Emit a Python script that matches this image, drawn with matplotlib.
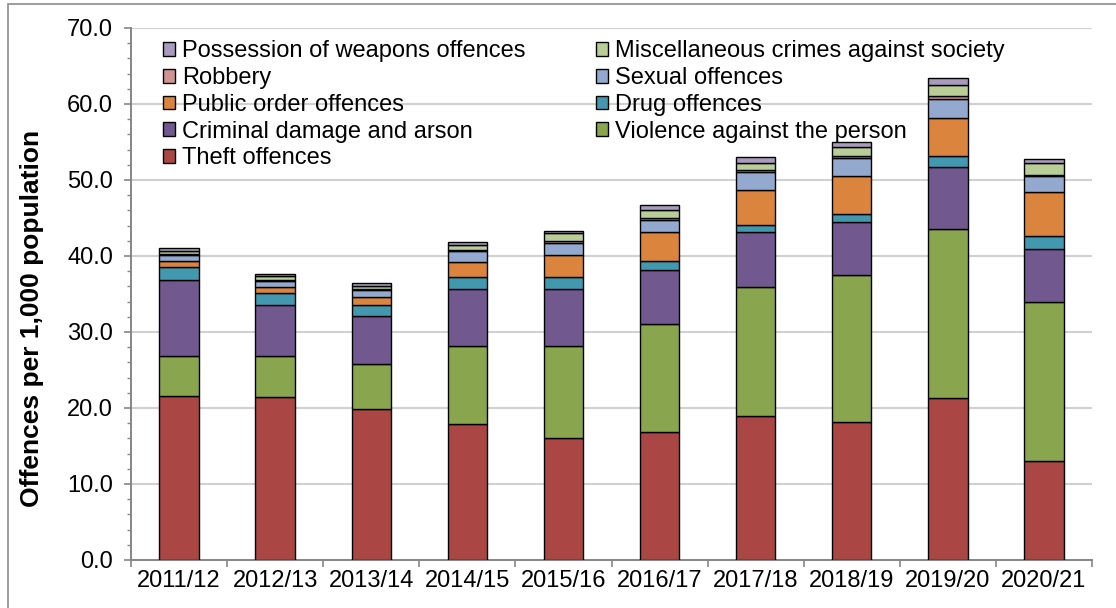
import numpy as np
import matplotlib
matplotlib.use("Agg")
import matplotlib.pyplot as plt
from matplotlib.patches import Rectangle

plt.rcParams.update({
    "font.family": ["Liberation Sans", "DejaVu Sans"],
    "font.size": 17,
})

years = ["2011/12", "2012/13", "2013/14", "2014/15", "2015/16",
         "2016/17", "2017/18", "2018/19", "2019/20", "2020/21"]

# offences per 1,000 population, stacked bottom to top
theft = [21.6, 21.4, 19.9, 17.9, 16.0, 16.8, 18.9, 18.1, 21.3, 13.0]
violence = [5.2, 5.4, 5.9, 10.3, 12.2, 14.2, 17.0, 19.4, 22.3, 20.9]
criminal_damage = [10.0, 6.8, 6.3, 7.4, 7.4, 7.1, 7.3, 7.0, 8.1, 7.0]
drug = [1.8, 1.5, 1.5, 1.7, 1.6, 1.2, 0.9, 1.0, 1.4, 1.7]
public_order = [0.7, 0.8, 1.0, 1.9, 2.9, 3.8, 4.6, 5.0, 5.1, 5.8]
sexual = [0.8, 0.8, 0.9, 1.5, 1.6, 1.6, 2.3, 2.4, 2.5, 2.1]
robbery = [0.1, 0.1, 0.1, 0.1, 0.3, 0.3, 0.3, 0.3, 0.3, 0.2]
misc = [0.5, 0.6, 0.5, 0.6, 1.0, 1.0, 1.0, 1.1, 1.5, 1.5]
weapons = [0.3, 0.2, 0.3, 0.4, 0.3, 0.7, 0.7, 0.7, 0.9, 0.6]

series = [
    ("Theft offences", theft, "#AA4643"),
    ("Violence against the person", violence, "#89A54E"),
    ("Criminal damage and arson", criminal_damage, "#71588F"),
    ("Drug offences", drug, "#4198AF"),
    ("Public order offences", public_order, "#DB843D"),
    ("Sexual offences", sexual, "#93A9CF"),
    ("Robbery", robbery, "#D19392"),
    ("Miscellaneous crimes against society", misc, "#B9CD96"),
    ("Possession of weapons offences", weapons, "#A99BBD"),
]

fig = plt.figure(figsize=(11.16, 6.08), dpi=100)
ax = fig.add_axes([131 / 1116, 48 / 608, 961 / 1116, 532 / 608])

x = np.arange(len(years))
bottom = np.zeros(len(years))
bars = {}
for name, vals, col in series:
    vals = np.asarray(vals, dtype=float)
    bars[name] = ax.bar(x, vals, width=0.41, bottom=bottom, color=col,
                        edgecolor="black", linewidth=1.0, zorder=3)
    bottom += vals

ax.set_xlim(-0.5, len(years) - 0.5)
ax.set_ylim(0, 70)
ax.set_yticks(np.arange(0, 71, 10))
ax.set_yticks(np.arange(0, 71, 2), minor=True)
ax.set_yticklabels([f"{v:.1f}" for v in np.arange(0, 71, 10)])
ax.yaxis.grid(True, which="major", color="#D0D0D0", linewidth=1.5, zorder=0)
ax.set_axisbelow(True)

# category boundaries carry the tick marks, labels sit at bar centres
ax.set_xticks(np.arange(-0.5, len(years), 1.0))
ax.set_xticklabels([])
ax.set_xticks(x, minor=True)
ax.set_xticklabels(years, minor=True)
ax.tick_params(axis="x", which="major", direction="out", length=5,
               width=1.2, color="#868686")
ax.tick_params(axis="x", which="minor", length=0, pad=7)
ax.tick_params(axis="y", which="major", direction="out", length=5,
               width=1.2, color="#868686", pad=8)
ax.tick_params(axis="y", which="minor", direction="out", length=3,
               width=1.0, color="#868686")

for s in ("top", "right"):
    ax.spines[s].set_visible(False)
for s in ("left", "bottom"):
    ax.spines[s].set_color("#868686")
    ax.spines[s].set_linewidth(1.4)

ax.set_ylabel("Offences per 1,000 population", fontweight="bold", fontsize=19)
ax.yaxis.set_label_coords(-0.0905, 0.454)

order = ["Possession of weapons offences", "Robbery", "Public order offences",
         "Criminal damage and arson", "Theft offences",
         "Miscellaneous crimes against society", "Sexual offences",
         "Drug offences", "Violence against the person"]
ax.legend([bars[n] for n in order], order, ncol=2, frameon=False,
          loc="upper left", bbox_to_anchor=(154 / 1116, 1 - 31 / 608),
          bbox_transform=fig.transFigure, fontsize=17,
          handlelength=0.5, handleheight=0.5, handletextpad=0.28,
          labelspacing=0.2, columnspacing=3.0, borderaxespad=0)

fig.patches.append(Rectangle((8 / 1116, -0.01), 1.1, 1 - 4 / 608 + 0.01,
                             transform=fig.transFigure, fill=False,
                             edgecolor="#8C8C8C", linewidth=1.2))

fig.savefig("out.png", dpi=100)
